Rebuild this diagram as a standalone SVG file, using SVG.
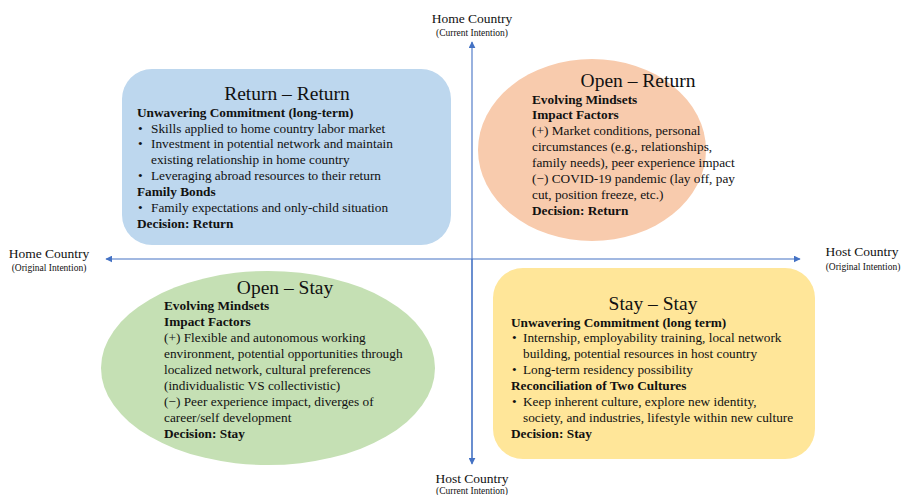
<svg xmlns="http://www.w3.org/2000/svg" width="904" height="495" viewBox="0 0 904 495">
  <style>
    text { font-family: "Liberation Serif", "Times New Roman", serif; fill: #111; }
    .ax { font-size: 13.5px; }
    .axs { font-size: 9.5px; }
    .title { font-size: 19.5px; text-anchor: middle; }
    .b { font-size: 13.3px; }
    .h { font-size: 13.3px; font-weight: bold; }
    .axis { stroke: #4472C4; stroke-width: 1.1; fill: none; }
  </style>
  <defs>
    <marker id="arr" viewBox="0 0 10 10" refX="9" refY="5" markerWidth="7" markerHeight="7" markerUnits="userSpaceOnUse" orient="auto-start-reverse">
      <path d="M0,0 L10,5 L0,10 z" fill="#4472C4"/>
    </marker>
  </defs>

  <rect width="904" height="495" fill="#ffffff"/>

  <!-- quadrant shapes -->
  <g id="return-return">
    <rect x="122" y="69" width="329" height="176" rx="30" ry="30" fill="#BDD7EE"/>
    <text class="title" x="287" y="100">Return – Return</text>
    <text class="h" x="137" y="117">Unwavering Commitment (long-term)</text>
    <text class="b" x="138" y="132.5">•</text><text class="b" x="151" y="132.5">Skills applied to home country labor market</text>
    <text class="b" x="138" y="148">•</text><text class="b" x="151" y="148">Investment in potential network and maintain</text>
    <text class="b" x="151" y="164">existing relationship in home country</text>
    <text class="b" x="138" y="180">•</text><text class="b" x="151" y="180">Leveraging abroad resources to their return</text>
    <text class="h" x="137" y="196">Family Bonds</text>
    <text class="b" x="138" y="212">•</text><text class="b" x="151" y="212">Family expectations and only-child situation</text>
    <text class="h" x="137" y="228">Decision: Return</text>
  </g>

  <g id="open-return">
    <ellipse cx="592" cy="150" rx="114" ry="91" fill="#F8CBAD"/>
    <text class="title" x="638" y="87">Open – Return</text>
    <text class="h" x="532" y="104">Evolving Mindsets</text>
    <text class="h" x="532" y="119">Impact Factors</text>
    <text class="b" x="532" y="135">(+) Market conditions, personal</text>
    <text class="b" x="532" y="151">circumstances (e.g., relationships,</text>
    <text class="b" x="532" y="167">family needs), peer experience impact</text>
    <text class="b" x="532" y="183">(−) COVID-19 pandemic (lay off, pay</text>
    <text class="b" x="532" y="199">cut, position freeze, etc.)</text>
    <text class="h" x="532" y="215">Decision: Return</text>
  </g>

  <g id="open-stay">
    <ellipse cx="268" cy="368" rx="167" ry="97" fill="#C5E0B4"/>
    <text class="title" x="285" y="294">Open – Stay</text>
    <text class="h" x="164" y="310">Evolving Mindsets</text>
    <text class="h" x="164" y="326">Impact Factors</text>
    <text class="b" x="164" y="342">(+) Flexible and autonomous working</text>
    <text class="b" x="164" y="358">environment, potential opportunities through</text>
    <text class="b" x="164" y="374">localized network, cultural preferences</text>
    <text class="b" x="164" y="390">(individualistic VS collectivistic)</text>
    <text class="b" x="164" y="406">(−) Peer experience impact, diverges of</text>
    <text class="b" x="164" y="422">career/self development</text>
    <text class="h" x="164" y="438">Decision: Stay</text>
  </g>

  <g id="stay-stay">
    <rect x="493" y="268" width="322" height="191" rx="30" ry="30" fill="#FFE699"/>
    <text class="title" x="653" y="310">Stay – Stay</text>
    <text class="h" x="511" y="327">Unwavering Commitment (long term)</text>
    <text class="b" x="512" y="342">•</text><text class="b" x="523" y="342">Internship, employability training, local network</text>
    <text class="b" x="523" y="358">building, potential resources in host country</text>
    <text class="b" x="512" y="374">•</text><text class="b" x="523" y="374">Long-term residency possibility</text>
    <text class="h" x="511" y="390">Reconciliation of Two Cultures</text>
    <text class="b" x="512" y="406">•</text><text class="b" x="523" y="406">Keep inherent culture, explore new identity,</text>
    <text class="b" x="523" y="422">society, and industries, lifestyle within new culture</text>
    <text class="h" x="511" y="438">Decision: Stay</text>
  </g>

  <!-- axes -->
  <g id="connectors">
    <line class="axis" x1="472" y1="463" x2="472" y2="42" marker-end="url(#arr)"/>
    <line class="axis" x1="472" y1="259" x2="472" y2="464" marker-end="url(#arr)"/>
    <line class="axis" x1="106" y1="259" x2="800" y2="259" marker-start="url(#arr)" marker-end="url(#arr)"/>
  </g>

  <!-- axis labels -->
  <g id="axis-top">
    <text class="ax" x="472" y="23" text-anchor="middle">Home Country</text>
    <text class="axs" x="472" y="36" text-anchor="middle">(Current Intention)</text>
  </g>
  <g id="axis-bottom">
    <text class="ax" x="472" y="483" text-anchor="middle">Host Country</text>
    <text class="axs" x="472" y="494" text-anchor="middle">(Current Intention)</text>
  </g>
  <g id="axis-left">
    <text class="ax" x="49" y="258" text-anchor="middle">Home Country</text>
    <text class="axs" x="49" y="271" text-anchor="middle">(Original Intention)</text>
  </g>
  <g id="axis-right">
    <text class="ax" x="862" y="256" text-anchor="middle">Host Country</text>
    <text class="axs" x="863" y="270" text-anchor="middle">(Original Intention)</text>
  </g>
</svg>
